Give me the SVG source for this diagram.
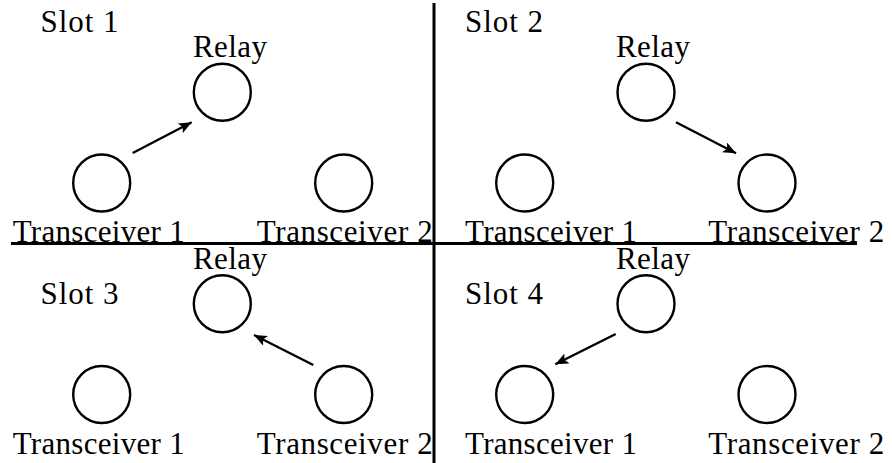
<svg xmlns="http://www.w3.org/2000/svg" width="892" height="463" viewBox="0 0 892 463">
  <style>
    .node { fill: none; stroke: #000; stroke-width: 2.4; }
    .lbl { font-family: 'Liberation Serif', 'DejaVu Serif', serif; font-size: 31px; fill: #000; }
    .div { stroke: #000; stroke-width: 3; fill: none; }
    .edge { stroke: #000; stroke-width: 2.4; fill: none; marker-end: url(#tip); }
  </style>
  <defs>
    <marker id="tip" markerUnits="userSpaceOnUse" markerWidth="16" markerHeight="12" refX="13" refY="5.5" orient="auto">
      <path d="M0,0 L13,5.5 L0,11 L3,5.5 Z" fill="#000"/>
    </marker>
  </defs>

  <rect width="892" height="463" fill="#fff"/>

  <!-- slot dividers -->
  <g id="dividers">
    <line class="div" x1="434" y1="3" x2="434" y2="463"/>
    <line class="div" x1="11" y1="243.5" x2="857" y2="243.5"/>
  </g>

  <!-- slot titles -->
  <g id="slot-titles">
    <text class="lbl" x="40.5" y="32" textLength="78">Slot 1</text>
    <text class="lbl" x="465" y="32" textLength="78">Slot 2</text>
    <text class="lbl" x="40.5" y="304" textLength="78">Slot 3</text>
    <text class="lbl" x="465" y="304" textLength="78">Slot 4</text>
  </g>

  <!-- Slot 1 -->
  <g id="s1-relay">
    <circle class="node" cx="222.3" cy="92.3" r="28.5"/>
    <text class="lbl" x="193" y="57" textLength="74">Relay</text>
  </g>
  <g id="s1-t1">
    <circle class="node" cx="101.7" cy="183" r="28.5"/>
    <text class="lbl" x="12.7" y="242" textLength="172">Transceiver 1</text>
  </g>
  <g id="s1-t2">
    <circle class="node" cx="343.7" cy="183" r="28.5"/>
    <text class="lbl" x="256.7" y="242" textLength="176">Transceiver 2</text>
  </g>

  <!-- Slot 2 -->
  <g id="s2-relay">
    <circle class="node" cx="646" cy="92.3" r="28.5"/>
    <text class="lbl" x="616" y="57" textLength="74">Relay</text>
  </g>
  <g id="s2-t1">
    <circle class="node" cx="524.7" cy="183" r="28.5"/>
    <text class="lbl" x="465" y="242" textLength="172">Transceiver 1</text>
  </g>
  <g id="s2-t2">
    <circle class="node" cx="767" cy="183" r="28.5"/>
    <text class="lbl" x="708.3" y="242" textLength="176">Transceiver 2</text>
  </g>

  <!-- Slot 3 -->
  <g id="s3-relay">
    <circle class="node" cx="222.3" cy="303.8" r="28.5"/>
    <text class="lbl" x="193" y="268.5" textLength="74">Relay</text>
  </g>
  <g id="s3-t1">
    <circle class="node" cx="101.7" cy="394.5" r="28.5"/>
    <text class="lbl" x="12.7" y="453.5" textLength="172">Transceiver 1</text>
  </g>
  <g id="s3-t2">
    <circle class="node" cx="343.7" cy="394.5" r="28.5"/>
    <text class="lbl" x="256.7" y="453.5" textLength="176">Transceiver 2</text>
  </g>

  <!-- Slot 4 -->
  <g id="s4-relay">
    <circle class="node" cx="646" cy="303.8" r="28.5"/>
    <text class="lbl" x="616" y="268.5" textLength="74">Relay</text>
  </g>
  <g id="s4-t1">
    <circle class="node" cx="524.7" cy="394.5" r="28.5"/>
    <text class="lbl" x="465" y="453.5" textLength="172">Transceiver 1</text>
  </g>
  <g id="s4-t2">
    <circle class="node" cx="767" cy="394.5" r="28.5"/>
    <text class="lbl" x="708.3" y="453.5" textLength="176">Transceiver 2</text>
  </g>

  <!-- transmissions per slot -->
  <g id="connectors">
    <line class="edge" x1="132.7" y1="153" x2="191.7" y2="122.3"/>
    <line class="edge" x1="676" y1="122.3" x2="736" y2="153.3"/>
    <line class="edge" x1="313.3" y1="365" x2="254" y2="335"/>
    <line class="edge" x1="615.7" y1="334" x2="555.3" y2="364.3"/>
  </g>
</svg>
